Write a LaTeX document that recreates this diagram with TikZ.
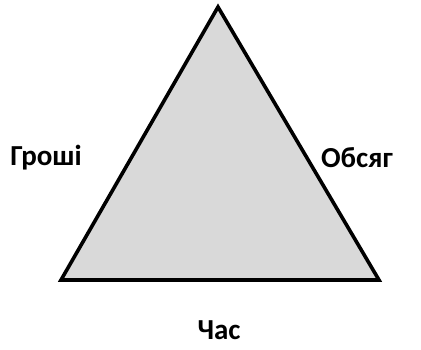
\documentclass[tikz,border=0pt]{standalone}
\usepackage{fontspec}
\setmainfont{Carlito}
\begin{document}
\begin{tikzpicture}[x=1pt,y=-1pt]
\useasboundingbox (0,0) rectangle (421,349);
\tikzset{lbl/.style={font=\bfseries\fontsize{29}{33}\selectfont, inner sep=0pt}}
\coordinate (top) at (218,7);
\coordinate (bl) at (61,280);
\coordinate (br) at (379,280);
\draw[line width=3.6pt, line join=miter, fill={rgb,255:red,217;green,217;blue,217}] (top) -- (bl) -- (br) -- cycle;
\node[lbl] (money) at (46,158) {Гроші};
\node[lbl] (scope) at (357,158) {Обсяг};
\node[lbl] (time) at (219,330) {Час};
\end{tikzpicture}
\end{document}
